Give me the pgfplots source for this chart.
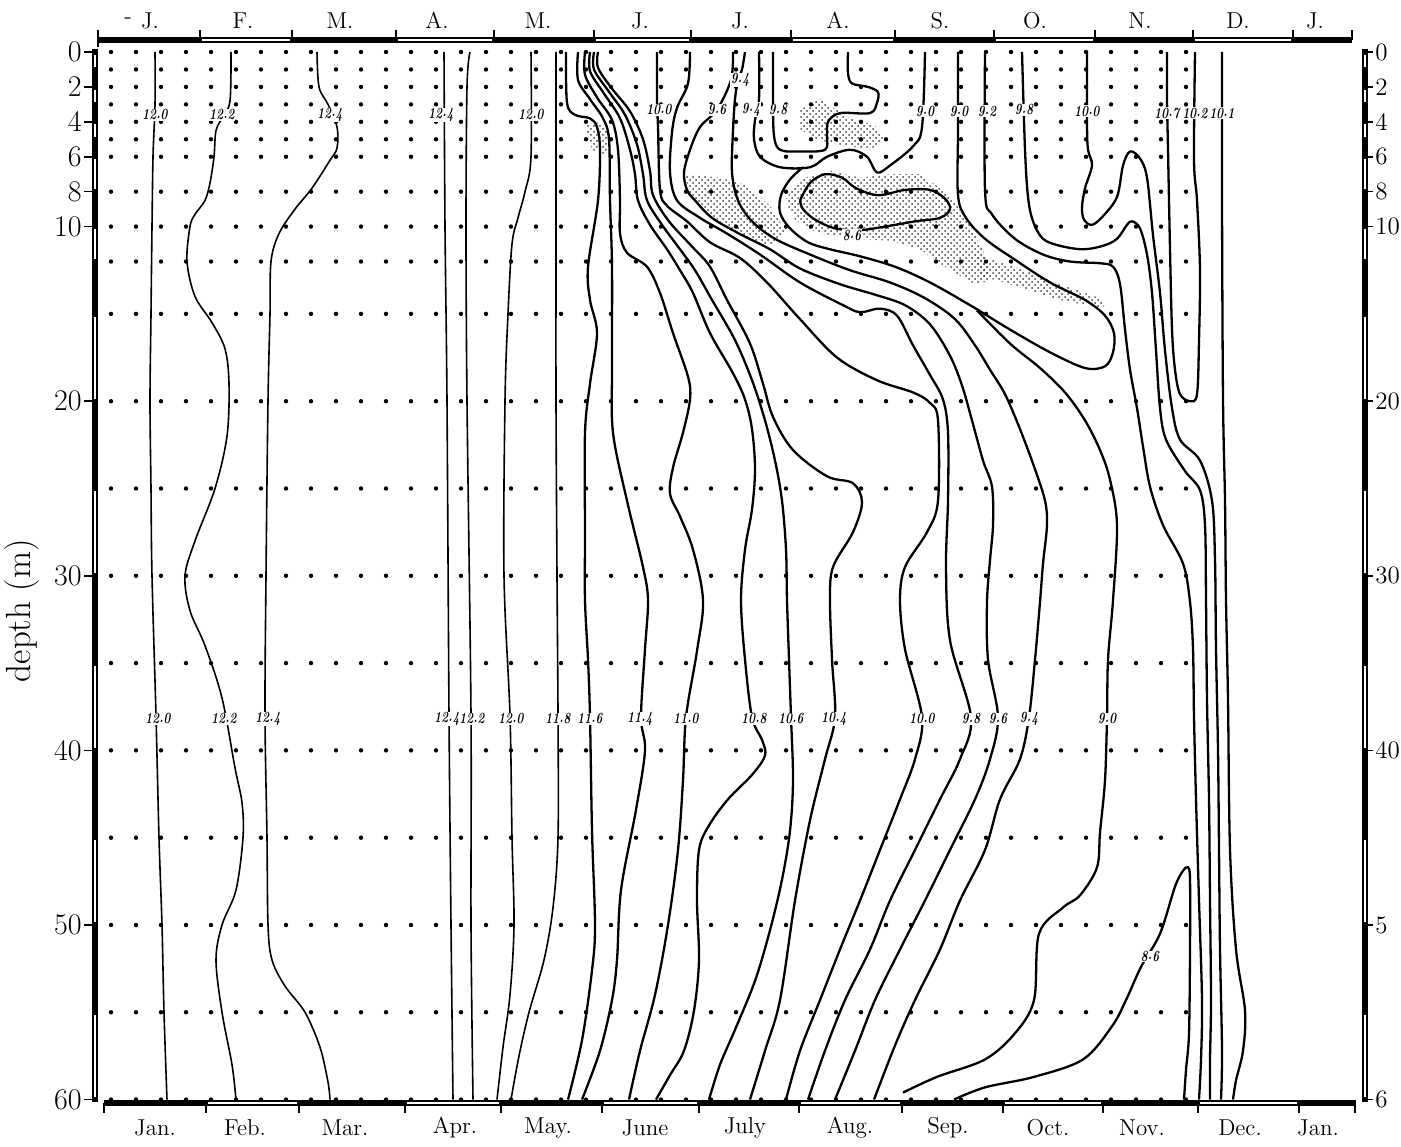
\documentclass[border=0pt]{standalone}
\usepackage{graphicx}
\usepackage{pgfplots}
\pgfplotsset{compat=1.18}
\usetikzlibrary{patterns}
\newcommand{\pd}{\kern0.02em\raisebox{0.22ex}{.}\kern0.02em}
\newcommand{\lb}[1]{\scalebox{0.74}[1]{#1}}
\tikzset{
  iso/.style={black, line width=1.15pt, smooth, tension=0.55, mark=none},
  thiniso/.style={black, line width=0.8pt, smooth, tension=0.55, mark=none},
  dotrow/.style={black, line width=2.2pt, line cap=round, dash pattern=on 0pt off 12.5pt, mark=none},
  stip/.style={draw=none, pattern=crosshatch dots, pattern color=black!75, mark=none},
  lbl/.style={fill=white, inner sep=0.3pt, font=\fontsize{7.8}{8}\selectfont\bfseries\itshape},
}
\begin{document}
\begin{tikzpicture}
\begin{axis}[
  scale only axis, width=700.5pt, height=573pt,
  xmin=-1.03, xmax=12.98, ymin=-2.978, ymax=62.66, y dir=reverse,
  hide axis, clip=false,
]
% ---- stippled areas ----
\addplot[stip] coordinates {(4.82,4.2) (4.97,4.0) (5.09,4.8) (5.02,5.9) (4.89,5.6)} -- cycle;
\addplot[stip] coordinates {(5.82,7.0) (6.17,7.2) (6.42,7.6) (6.67,8.8) (6.82,10.2) (6.67,11.1) (6.37,10.5) (6.07,9.3) (5.87,8.2)} -- cycle;
\addplot[stip] coordinates {(6.82,8.5) (6.97,7.3) (7.27,6.8) (7.57,7.2) (7.87,7.0) (8.17,7.0) (8.47,8.2) (8.67,9.9) (8.82,11.6) (8.87,13.1) (8.72,13.3) (8.47,12.5) (8.17,11.3) (7.87,10.8) (7.47,10.7) (7.12,10.3) (6.92,9.6)} -- cycle;
\addplot[stip] coordinates {(6.97,3.3) (7.17,2.7) (7.47,3.8) (7.72,4.2) (7.82,5.0) (7.67,5.6) (7.37,5.3) (7.12,5.0) (6.97,4.4)} -- cycle;
\addplot[stip] coordinates {(8.72,11.6) (9.17,12.4) (9.57,13.3) (9.97,14.1) (10.02,14.7) (9.57,14.2) (9.07,13.3) (8.77,12.8)} -- cycle;
% ---- sampling dots ----
\addplot[dotrow] coordinates {(0.08,0) (10.95,0)};
\addplot[dotrow] coordinates {(0.08,1) (10.95,1)};
\addplot[dotrow] coordinates {(0.08,2) (10.95,2)};
\addplot[dotrow] coordinates {(0.08,3) (10.95,3)};
\addplot[dotrow] coordinates {(0.08,4) (10.95,4)};
\addplot[dotrow] coordinates {(0.08,5) (10.95,5)};
\addplot[dotrow] coordinates {(0.08,6) (10.95,6)};
\addplot[dotrow] coordinates {(0.08,8) (10.95,8)};
\addplot[dotrow] coordinates {(0.08,10) (10.95,10)};
\addplot[dotrow] coordinates {(0.08,12) (10.95,12)};
\addplot[dotrow] coordinates {(0.08,15) (10.95,15)};
\addplot[dotrow] coordinates {(0.08,20) (10.95,20)};
\addplot[dotrow] coordinates {(0.08,25) (11.05,25)};
\addplot[dotrow] coordinates {(0.08,30) (11.05,30)};
\addplot[dotrow] coordinates {(0.08,35) (11.05,35)};
\addplot[dotrow] coordinates {(0.08,40) (11.05,40)};
\addplot[dotrow] coordinates {(0.08,45) (11.05,45)};
\addplot[dotrow] coordinates {(0.08,50) (11.05,50)};
\addplot[dotrow] coordinates {(0.08,55) (11.05,55)};
\addplot[dotrow] coordinates {(0.08,60) (11.05,60)};
% ---- isotherms, Jan - May ----
\addplot[thiniso] coordinates {(0.52,0) (0.52,3) (0.50,6) (0.49,10) (0.48,15) (0.47,20) (0.48,25) (0.49,30) (0.53,38) (0.56,45) (0.59,50) (0.61,55) (0.64,60)};
\addplot[thiniso] coordinates {(1.28,0) (1.27,2.8) (1.20,3.7) (1.13,4.5) (1.11,6) (1.07,7.5) (1.02,8.5) (0.92,9.3) (0.87,10) (0.84,12) (0.92,14) (1.09,15.5) (1.22,17) (1.26,19) (1.24,22) (1.12,25) (0.92,28) (0.82,30) (0.87,32) (1.02,34) (1.19,37) (1.32,41) (1.39,43) (1.40,45) (1.33,48) (1.19,50) (1.13,52) (1.19,55) (1.29,58) (1.33,60)};
\addplot[thiniso] coordinates {(2.14,0) (2.16,2) (2.25,3) (2.34,4.3) (2.34,5.5) (2.27,6.2) (2.09,7.8) (1.92,9) (1.76,10.4) (1.68,12) (1.67,15) (1.65,20) (1.63,30) (1.62,38) (1.64,45) (1.65,50) (1.69,52) (1.82,53.5) (2.02,55) (2.17,57) (2.25,59) (2.27,60)};
\addplot[thiniso] coordinates {(3.41,0) (3.42,10) (3.44,20) (3.46,38) (3.48,50) (3.50,60)};
\addplot[thiniso] coordinates {(3.67,0) (3.64,2) (3.63,10) (3.64,20) (3.68,38) (3.68,50) (3.70,60)};
\addplot[thiniso] coordinates {(4.28,0) (4.28,6) (4.22,8) (4.15,9.5) (4.09,11) (4.05,15) (4.02,20) (4.01,30) (4.07,38) (4.09,45) (4.11,50) (4.07,54) (4.00,57) (3.94,60)};
\addplot[thiniso] coordinates {(4.53,0) (4.53,10) (4.53,20) (4.54,30) (4.55,38) (4.55,45) (4.50,49) (4.41,52) (4.26,55) (4.16,57.5) (4.08,60)};
% ---- June bundle ----
\addplot[iso] coordinates {(4.63,0) (4.64,2.9) (4.72,3.6) (4.87,3.8) (4.94,4.3) (4.97,5.6) (4.95,8.5) (4.85,12.3) (4.87,14.2) (4.94,16.1) (4.87,19) (4.82,21.8) (4.82,27.5) (4.82,31.4) (4.85,34.8) (4.87,38.1) (4.89,44.6) (4.92,50) (4.89,52.6) (4.79,56.6) (4.65,60)};
\addplot[iso] coordinates {(4.75,0) (4.75,1.6) (4.87,2.7) (5.00,3.8) (5.06,5.0) (5.07,8.5) (5.09,12.3) (5.09,18) (5.10,21.8) (5.24,25.7) (5.40,29.5) (5.45,31.4) (5.42,34.2) (5.38,38.1) (5.42,40) (5.33,43.4) (5.18,48) (5.14,52) (5.09,54.3) (4.97,57.2) (4.79,60)};
\addplot[iso] coordinates {(4.82,0) (4.82,1.3) (4.94,2.6) (5.09,3.9) (5.15,5.6) (5.17,8.5) (5.17,10.4) (5.24,11.5) (5.44,12.3) (5.57,13.8) (5.70,16.1) (5.85,18.6) (5.87,19.9) (5.80,21.8) (5.70,23.8) (5.67,25.3) (5.77,26.6) (5.90,28.5) (6.00,31.4) (5.94,34.3) (5.83,38.1) (5.80,41.7) (5.75,45.7) (5.65,50) (5.52,54) (5.37,57.2) (5.26,60)};
\addplot[iso] coordinates {(4.87,0) (4.87,1.1) (5.00,2.3) (5.17,3.8) (5.27,5.6) (5.32,7.0) (5.35,8.5) (5.47,9.9) (5.64,11.3) (5.77,12.5) (5.90,13.8) (6.07,16.1) (6.30,18.4) (6.42,19.9) (6.49,21.6) (6.52,23.9) (6.49,26.2) (6.42,28.5) (6.38,31.4) (6.42,34.8) (6.49,38.1) (6.59,39.4) (6.62,40.3) (6.49,41.4) (6.25,42.8) (6.06,44.3) (5.96,45.7) (5.94,48.6) (5.96,52) (5.91,54.9) (5.81,57.2) (5.67,58.6) (5.53,60)};
\addplot[iso] coordinates {(4.91,0) (4.91,1.0) (5.05,2.2) (5.22,3.6) (5.34,5.3) (5.40,7.0) (5.44,8.5) (5.59,9.9) (5.77,11.3) (5.92,12.5) (6.09,14.2) (6.32,16.5) (6.49,18.8) (6.62,21.1) (6.72,23.4) (6.79,25.7) (6.83,28.5) (6.84,31.4) (6.86,34.8) (6.88,38.1) (6.90,41.7) (6.87,44.6) (6.79,47.4) (6.67,50.3) (6.52,53.2) (6.32,56) (6.17,58) (6.06,60)};
\addplot[iso] coordinates {(4.95,0) (4.95,0.9) (5.09,2.1) (5.27,3.4) (5.40,5.0) (5.47,6.8) (5.50,8.2) (5.66,9.7) (5.90,11.2) (6.07,12.3) (6.24,14.2) (6.47,16.7) (6.60,19.0) (6.70,20.9) (6.90,22.8) (7.24,24.3) (7.50,24.7) (7.59,25.8) (7.50,27.5) (7.30,29.5) (7.27,31.4) (7.29,34.8) (7.32,38.1) (7.22,40.5) (7.07,44) (6.92,48.6) (6.77,54.3) (6.62,57.2) (6.47,60)};
\addplot[iso] coordinates {(5.54,0) (5.54,2.9) (5.55,4.3) (5.57,7.9) (5.64,8.8) (5.84,9.7) (6.07,10.9) (6.37,11.8) (6.64,13.2) (6.97,15.3) (7.34,17.5) (7.74,18.8) (8.10,19.5) (8.27,20.1) (8.35,21.1) (8.35,25.7) (8.24,27.5) (8.02,29.5) (7.97,31.4) (8.02,34.2) (8.19,38.1) (8.12,40.5) (7.97,42.8) (7.77,45.7) (7.57,48.6) (7.37,51.4) (7.17,54.3) (6.97,57.2) (6.83,60)};
\addplot[iso] coordinates {(5.87,0) (5.85,1.8) (5.74,3.2) (5.69,4.6) (5.67,6.9) (5.74,8.5) (5.97,9.5) (6.24,10.4) (6.57,11.6) (6.97,13.2) (7.40,14.5) (7.57,14.9) (7.77,14.7) (7.94,15.1) (8.10,16.8) (8.27,18.5) (8.40,19.9) (8.45,21.8) (8.45,25.7) (8.43,29.5) (8.47,33.7) (8.68,38.1) (8.57,40.5) (8.37,42.8) (8.12,45.7) (7.87,48.6) (7.67,51.4) (7.42,54.3) (7.22,57.2) (7.05,60)};
\addplot[iso] coordinates {(6.30,0) (6.28,1.6) (6.14,3.3) (5.97,4.3) (5.87,5.6) (5.81,6.9) (5.84,7.9) (5.92,8.5) (6.09,9.5) (6.36,10.4) (6.67,11.3) (6.97,12.4) (7.37,13.3) (7.72,13.9) (8.02,14.5) (8.27,15.6) (8.47,17.4) (8.59,19.1) (8.69,21.1) (8.80,23.4) (8.89,24.9) (8.90,27.1) (8.87,29.1) (8.84,31.5) (8.85,34.8) (8.95,38.1) (8.87,40.5) (8.72,42.8) (8.47,45.7) (8.22,48.6) (7.97,51.4) (7.72,54.3) (7.52,57.2) (7.32,60)};
\addplot[iso] coordinates {(6.42,0) (6.39,1.0) (6.35,1.6) (6.32,2.7) (6.30,4.5) (6.29,6.9) (6.35,8.5) (6.49,9.7) (6.72,10.7) (7.07,11.6) (7.47,12.5) (7.87,13.2) (8.22,14.1) (8.52,15.3) (8.72,16.8) (8.87,18.2) (9.02,19.6) (9.17,21.6) (9.32,23.9) (9.42,25.7) (9.44,27.1) (9.40,29.3) (9.37,31.5) (9.32,34.8) (9.26,38.1) (9.17,40.5) (8.97,42.8) (8.82,45.7) (8.57,48.6) (8.37,51.4) (8.12,54.3) (7.92,56.9) (7.71,60)};
% ---- cold core, Jul - Oct ----
\addplot[iso] coordinates {(6.70,0) (6.70,2.7) (6.71,4.8) (6.77,5.6) (6.97,5.7) (7.22,5.6) (7.24,4.8) (7.25,4.0) (7.37,3.5) (7.67,3.5) (7.74,2.9) (7.75,2.3) (7.65,2.0) (7.49,1.8) (7.45,1.2) (7.45,0)};
\addplot[iso] coordinates {(6.56,0) (6.56,2.7) (6.52,3.9) (6.51,5.0) (6.57,6.0) (6.77,6.6) (7.07,6.6) (7.24,6.0) (7.47,5.6) (7.64,6.0) (7.74,6.9) (7.87,6.5) (8.10,5.4) (8.19,4.3) (8.22,0)};
\addplot[iso] coordinates {(6.97,8.5) (7.07,7.5) (7.22,7.0) (7.39,7.2) (7.53,7.8) (7.75,8.2) (8.02,7.9) (8.27,7.9) (8.42,8.4) (8.47,9.0) (8.37,9.5) (8.12,9.7) (7.82,10.0) (7.57,10.2) (7.32,10.1) (7.12,9.6) (7.00,9.0) (6.97,8.5)};
\addplot[iso] coordinates {(8.55,0) (8.55,4.5) (8.55,8.2) (8.63,9.5) (8.82,10.7) (9.12,11.9) (9.47,13.2) (9.82,14.2) (10.02,15.1) (10.11,16.1) (10.10,17.2) (10.02,18.0) (9.82,18.1) (9.47,17.2) (9.07,15.9) (8.67,14.5) (8.27,13.2) (7.92,12.3) (7.57,11.7) (7.27,11.3) (7.05,10.9) (6.87,10.1) (6.77,9.2) (6.78,8.2) (6.87,7.3) (7.00,6.6)};
\addplot[iso] coordinates {(8.74,14.8) (9.07,16.7) (9.37,18.1) (9.62,19.5) (9.82,21.1) (9.97,22.8) (10.07,24.5) (10.14,27.1) (10.10,31.4) (10.05,34.8) (10.04,38.1) (10.02,41.7) (9.97,44.7) (9.94,46.7) (9.77,48.3) (9.60,49) (9.36,50.5) (9.31,54.3) (9.12,56.2) (8.82,57.7) (8.34,58.7) (8.00,59.6)};
\addplot[iso] coordinates {(8.82,0) (8.82,7.9) (8.89,9.3) (9.12,10.7) (9.40,11.6) (9.67,12.0) (9.97,12.1) (10.10,12.3) (10.17,13.3) (10.22,15.9) (10.27,18.2) (10.34,20.4) (10.40,22.6) (10.47,24.9) (10.60,27.1) (10.80,29.3) (10.87,31.5) (10.90,34.2) (10.91,38.1) (10.93,42.8) (10.96,48.6) (10.99,54.3) (10.98,57.7) (10.96,60)};
\addplot[iso] coordinates {(9.19,0) (9.22,5.6) (9.25,8.3) (9.30,9.7) (9.40,10.7) (9.57,11.1) (9.80,11.3) (10.00,11.1) (10.14,10.7) (10.24,9.9) (10.29,9.7) (10.37,10.1) (10.44,11.6) (10.49,13.8) (10.53,17.1) (10.57,20.4) (10.63,22.2) (10.82,24) (10.97,25.1) (11.02,27.1) (11.03,31.4) (11.04,37.1) (11.06,42.8) (11.07,48.6) (11.08,54.3) (11.07,57.7) (11.07,60)};
\addplot[iso] coordinates {(9.84,0) (9.84,4.1) (9.85,5.6) (9.89,6.5) (9.82,7.8) (9.79,8.9) (9.81,9.6) (9.89,9.9) (10.00,9.4) (10.14,8.3) (10.20,6.5) (10.27,5.7) (10.37,6.1) (10.44,7.2) (10.50,10.5) (10.57,13.8) (10.62,17.1) (10.69,20.4) (10.77,22.2) (10.97,23.4) (11.09,25.7) (11.12,29.1) (11.13,34.2) (11.15,40) (11.16,45.7) (11.17,51.4) (11.19,57.2) (11.18,60)};
\addplot[iso] coordinates {(10.64,0) (10.64,2.7) (10.65,5.6) (10.67,11.3) (10.69,15.9) (10.72,18.2) (10.77,19.6) (10.87,20.0) (10.94,19.6) (10.96,16.5) (10.97,12.5) (10.94,8.5) (10.91,6.2) (10.92,0)};
\addplot[iso] coordinates {(11.19,0) (11.19,8.5) (11.20,19.9) (11.22,25.7) (11.23,31.4) (11.25,37.1) (11.27,45.7) (11.33,51.4) (11.42,54.9) (11.40,57.2) (11.33,58.9) (11.30,60)};
\addplot[iso] coordinates {(8.51,60) (8.82,59.3) (9.31,58.7) (9.80,57.7) (10.09,55.8) (10.23,54.3) (10.38,52.4) (10.57,50.5) (10.72,47.8) (10.80,46.9) (10.85,46.7) (10.87,47.4) (10.87,51.4) (10.86,56.2) (10.83,58.3) (10.81,60)};
% ---- isotherm labels ----
\node[lbl] at (axis cs:0.52,3.6) {\lb{12\pd0}};
\node[lbl] at (axis cs:1.19,3.6) {\lb{12\pd2}};
\node[lbl] at (axis cs:2.27,3.6) {\lb{12\pd4}};
\node[lbl] at (axis cs:3.38,3.6) {\lb{12\pd4}};
\node[lbl] at (axis cs:4.28,3.6) {\lb{12\pd0}};
\node[lbl] at (axis cs:5.56,3.3) {\lb{10\pd0}};
\node[lbl] at (axis cs:6.14,3.3) {\lb{9\pd6}};
\node[lbl] at (axis cs:6.48,3.3) {\lb{9\pd4}};
\node[lbl] at (axis cs:6.75,3.3) {\lb{9\pd8}};
\node[lbl] at (axis cs:6.37,1.6) {\lb{9\pd4}};
\node[lbl] at (axis cs:8.22,3.4) {\lb{9\pd0}};
\node[lbl] at (axis cs:8.56,3.4) {\lb{9\pd0}};
\node[lbl] at (axis cs:8.84,3.4) {\lb{9\pd2}};
\node[lbl] at (axis cs:9.21,3.3) {\lb{9\pd8}};
\node[lbl] at (axis cs:9.84,3.4) {\lb{10\pd0}};
\node[lbl] at (axis cs:10.64,3.5) {\lb{10\pd7}};
\node[lbl] at (axis cs:10.92,3.5) {\lb{10\pd2}};
\node[lbl] at (axis cs:11.19,3.5) {\lb{10\pd1}};
\node[lbl] at (axis cs:0.55,38.2) {\lb{12\pd0}};
\node[lbl] at (axis cs:1.21,38.2) {\lb{12\pd2}};
\node[lbl] at (axis cs:1.65,38.2) {\lb{12\pd4}};
\node[lbl] at (axis cs:3.44,38.2) {\lb{12\pd4}};
\node[lbl] at (axis cs:3.69,38.2) {\lb{12\pd2}};
\node[lbl] at (axis cs:4.08,38.2) {\lb{12\pd0}};
\node[lbl] at (axis cs:4.55,38.2) {\lb{11\pd8}};
\node[lbl] at (axis cs:4.87,38.2) {\lb{11\pd6}};
\node[lbl] at (axis cs:5.37,38.2) {\lb{11\pd4}};
\node[lbl] at (axis cs:5.83,38.2) {\lb{11\pd0}};
\node[lbl] at (axis cs:6.51,38.2) {\lb{10\pd8}};
\node[lbl] at (axis cs:6.88,38.2) {\lb{10\pd6}};
\node[lbl] at (axis cs:7.31,38.2) {\lb{10\pd4}};
\node[lbl] at (axis cs:8.19,38.2) {\lb{10\pd0}};
\node[lbl] at (axis cs:8.68,38.2) {\lb{9\pd8}};
\node[lbl] at (axis cs:8.95,38.2) {\lb{9\pd6}};
\node[lbl] at (axis cs:9.26,38.2) {\lb{9\pd4}};
\node[lbl] at (axis cs:10.04,38.2) {\lb{9\pd0}};
\node[lbl] at (axis cs:7.49,10.5) {\lb{8\pd6}};
\node[lbl] at (axis cs:10.47,51.8) {\lb{8\pd6}};
% ---- month bars ----
\draw[line width=3pt] (axis cs:-0.05,-0.69) -- (axis cs:12.49,-0.69);
\draw[white, line width=1.1pt] (axis cs:0.99,-0.69) -- (axis cs:1.87,-0.69);
\draw[white, line width=1.1pt] (axis cs:2.95,-0.69) -- (axis cs:3.89,-0.69);
\draw[white, line width=1.1pt] (axis cs:4.93,-0.69) -- (axis cs:5.86,-0.69);
\draw[white, line width=1.1pt] (axis cs:6.90,-0.69) -- (axis cs:7.90,-0.69);
\draw[white, line width=1.1pt] (axis cs:8.93,-0.69) -- (axis cs:9.90,-0.69);
\draw[white, line width=1.1pt] (axis cs:10.92,-0.69) -- (axis cs:11.88,-0.69);
\draw[line width=0.8pt] (axis cs:-0.05,-0.3)--(axis cs:-0.05,-1.25) (axis cs:0.97,-0.69)--(axis cs:0.97,-1.25) (axis cs:1.89,-0.69)--(axis cs:1.89,-1.25) (axis cs:2.93,-0.69)--(axis cs:2.93,-1.25) (axis cs:3.91,-0.69)--(axis cs:3.91,-1.25) (axis cs:4.91,-0.69)--(axis cs:4.91,-1.25) (axis cs:5.88,-0.69)--(axis cs:5.88,-1.25) (axis cs:6.88,-0.69)--(axis cs:6.88,-1.25) (axis cs:7.92,-0.69)--(axis cs:7.92,-1.25) (axis cs:8.91,-0.69)--(axis cs:8.91,-1.25) (axis cs:9.92,-0.69)--(axis cs:9.92,-1.25) (axis cs:10.90,-0.69)--(axis cs:10.90,-1.25) (axis cs:11.90,-0.69)--(axis cs:11.90,-1.25) (axis cs:12.49,-0.69)--(axis cs:12.49,-1.25);
\draw[line width=3pt] (axis cs:0.01,60.2) -- (axis cs:12.52,60.2);
\draw[white, line width=1.1pt] (axis cs:1.05,60.2) -- (axis cs:1.94,60.2);
\draw[white, line width=1.1pt] (axis cs:3.04,60.2) -- (axis cs:3.96,60.2);
\draw[white, line width=1.1pt] (axis cs:5.01,60.2) -- (axis cs:5.94,60.2);
\draw[white, line width=1.1pt] (axis cs:6.98,60.2) -- (axis cs:7.97,60.2);
\draw[white, line width=1.1pt] (axis cs:9.02,60.2) -- (axis cs:9.98,60.2);
\draw[white, line width=1.1pt] (axis cs:10.97,60.2) -- (axis cs:11.94,60.2);
\draw[line width=0.8pt] (axis cs:0.01,60.2)--(axis cs:0.01,60.75) (axis cs:1.03,60.2)--(axis cs:1.03,60.75) (axis cs:1.96,60.2)--(axis cs:1.96,60.75) (axis cs:3.02,60.2)--(axis cs:3.02,60.75) (axis cs:3.98,60.2)--(axis cs:3.98,60.75) (axis cs:4.99,60.2)--(axis cs:4.99,60.75) (axis cs:5.96,60.2)--(axis cs:5.96,60.75) (axis cs:6.96,60.2)--(axis cs:6.96,60.75) (axis cs:7.99,60.2)--(axis cs:7.99,60.75) (axis cs:9.00,60.2)--(axis cs:9.00,60.75) (axis cs:10.00,60.2)--(axis cs:10.00,60.75) (axis cs:10.95,60.2)--(axis cs:10.95,60.75) (axis cs:11.96,60.2)--(axis cs:11.96,60.75) (axis cs:12.52,60.0)--(axis cs:12.52,60.75);
% ---- depth bars ----
\draw[line width=3.4pt] (axis cs:-0.08,-0.2) -- (axis cs:-0.08,60.15);
\draw[white, line width=1.3pt] (axis cs:-0.08,0.15)--(axis cs:-0.08,0.85) (axis cs:-0.08,2.15)--(axis cs:-0.08,2.85) (axis cs:-0.08,4.15)--(axis cs:-0.08,4.85) (axis cs:-0.08,6.15)--(axis cs:-0.08,7.85) (axis cs:-0.08,10.15)--(axis cs:-0.08,11.85) (axis cs:-0.08,15.15)--(axis cs:-0.08,19.85) (axis cs:-0.08,25.15)--(axis cs:-0.08,29.85) (axis cs:-0.08,35.15)--(axis cs:-0.08,39.85) (axis cs:-0.08,45.15)--(axis cs:-0.08,49.85) (axis cs:-0.08,55.15)--(axis cs:-0.08,59.85);
\draw[line width=0.8pt] (axis cs:-0.19,0)--(axis cs:-0.08,0) (axis cs:-0.19,2)--(axis cs:-0.08,2) (axis cs:-0.19,4)--(axis cs:-0.08,4) (axis cs:-0.19,6)--(axis cs:-0.08,6) (axis cs:-0.19,8)--(axis cs:-0.08,8) (axis cs:-0.19,10)--(axis cs:-0.08,10) (axis cs:-0.19,20)--(axis cs:-0.08,20) (axis cs:-0.19,30)--(axis cs:-0.08,30) (axis cs:-0.19,40)--(axis cs:-0.08,40) (axis cs:-0.19,50)--(axis cs:-0.08,50) (axis cs:-0.19,60)--(axis cs:-0.08,60);
\draw[line width=3pt] (axis cs:12.62,-0.2) -- (axis cs:12.62,60.15);
\draw[white, line width=1.1pt] (axis cs:12.62,0.15)--(axis cs:12.62,0.85) (axis cs:12.62,2.15)--(axis cs:12.62,2.85) (axis cs:12.62,4.15)--(axis cs:12.62,4.85) (axis cs:12.62,6.15)--(axis cs:12.62,7.85) (axis cs:12.62,10.15)--(axis cs:12.62,11.85) (axis cs:12.62,15.15)--(axis cs:12.62,19.85) (axis cs:12.62,25.15)--(axis cs:12.62,29.85) (axis cs:12.62,35.15)--(axis cs:12.62,39.85) (axis cs:12.62,45.15)--(axis cs:12.62,49.85) (axis cs:12.62,55.15)--(axis cs:12.62,59.85);
\draw[line width=0.8pt] (axis cs:12.62,0)--(axis cs:12.70,0) (axis cs:12.62,2)--(axis cs:12.70,2) (axis cs:12.62,4)--(axis cs:12.70,4) (axis cs:12.62,6)--(axis cs:12.70,6) (axis cs:12.62,8)--(axis cs:12.70,8) (axis cs:12.62,10)--(axis cs:12.70,10) (axis cs:12.62,20)--(axis cs:12.70,20) (axis cs:12.62,30)--(axis cs:12.70,30) (axis cs:12.62,40)--(axis cs:12.70,40) (axis cs:12.62,50)--(axis cs:12.70,50) (axis cs:12.62,60)--(axis cs:12.70,60);
% ---- depth labels ----
\tikzset{dl/.style={anchor=east, inner sep=1pt, font=\fontsize{15}{16}\selectfont}, dr/.style={anchor=west, inner sep=1pt, font=\fontsize{12.5}{13}\selectfont}}
\node[dl] at (axis cs:-0.19,0) {0};
\node[dl] at (axis cs:-0.19,2) {2};
\node[dl] at (axis cs:-0.19,4) {4};
\node[dl] at (axis cs:-0.19,6) {6};
\node[dl] at (axis cs:-0.19,8) {8};
\node[dl] at (axis cs:-0.19,10) {10};
\node[dl] at (axis cs:-0.19,20) {20};
\node[dl] at (axis cs:-0.19,30) {30};
\node[dl] at (axis cs:-0.19,40) {40};
\node[dl] at (axis cs:-0.19,50) {50};
\node[dl] at (axis cs:-0.19,60) {60};
\node[dr] at (axis cs:12.70,0) {0};
\node[dr] at (axis cs:12.70,2) {2};
\node[dr] at (axis cs:12.70,4) {4};
\node[dr] at (axis cs:12.70,6) {6};
\node[dr] at (axis cs:12.70,8) {8};
\node[dr] at (axis cs:12.70,10) {10};
\node[dr] at (axis cs:12.70,20) {20};
\node[dr] at (axis cs:12.70,30) {30};
\node[dr] at (axis cs:12.70,40) {40};
\node[dr] at (axis cs:12.70,50) {5};
\node[dr] at (axis cs:12.70,60) {6};
\node[rotate=90, font=\fontsize{17.5}{18}\selectfont] at (axis cs:-0.81,32) {depth (m)};
% ---- month labels ----
\tikzset{ml/.style={font=\fontsize{11.5}{12}\selectfont, inner sep=0pt}}
\node[ml] at (axis cs:0.25,-1.8) {-};
\node[ml] at (axis cs:0.47,-1.8) {J.};
\node[ml] at (axis cs:1.40,-1.8) {F.};
\node[ml] at (axis cs:2.37,-1.8) {M.};
\node[ml] at (axis cs:3.34,-1.8) {A.};
\node[ml] at (axis cs:4.35,-1.8) {M.};
\node[ml] at (axis cs:5.37,-1.8) {J.};
\node[ml] at (axis cs:6.37,-1.8) {J.};
\node[ml] at (axis cs:7.35,-1.8) {A.};
\node[ml] at (axis cs:8.37,-1.8) {S.};
\node[ml] at (axis cs:9.32,-1.8) {O.};
\node[ml] at (axis cs:10.37,-1.8) {N.};
\node[ml] at (axis cs:11.35,-1.8) {D.};
\node[ml] at (axis cs:12.12,-1.8) {J.};
\node[ml] at (axis cs:0.52,61.6) {Jan.};
\node[ml] at (axis cs:1.42,61.6) {Feb.};
\node[ml] at (axis cs:2.42,61.6) {Mar.};
\node[ml] at (axis cs:3.52,61.6) {Apr.};
\node[ml] at (axis cs:4.45,61.6) {May.};
\node[ml] at (axis cs:5.42,61.6) {June};
\node[ml] at (axis cs:6.42,61.6) {July};
\node[ml] at (axis cs:7.47,61.6) {Aug.};
\node[ml] at (axis cs:8.45,61.6) {Sep.};
\node[ml] at (axis cs:9.45,61.6) {Oct.};
\node[ml] at (axis cs:10.39,61.6) {Nov.};
\node[ml] at (axis cs:11.37,61.6) {Dec.};
\node[ml] at (axis cs:12.15,61.6) {Jan.};
\coordinate (BL) at (axis cs:-1.03,62.66);
\coordinate (TR) at (axis cs:12.98,-2.978);
\end{axis}
\pgfresetboundingbox
\path (BL) rectangle (TR);
\end{tikzpicture}
\end{document}
